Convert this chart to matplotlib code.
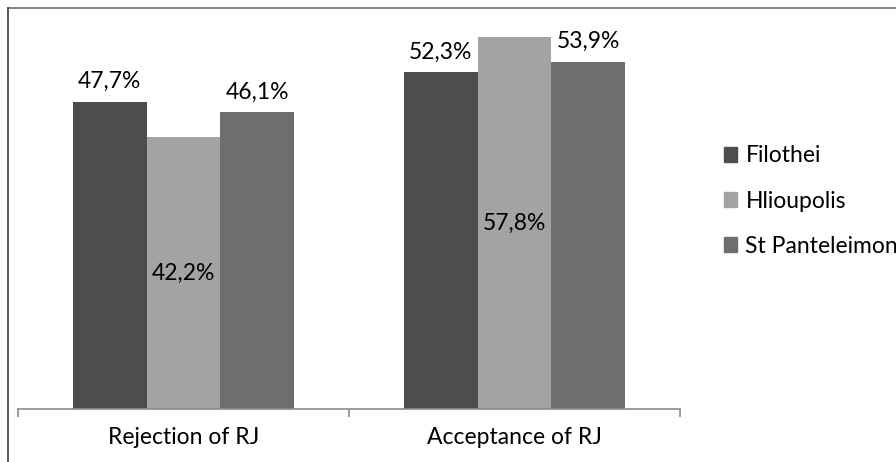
import numpy as np
import matplotlib.pyplot as plt
from matplotlib.lines import Line2D
from matplotlib.patches import Patch

plt.rcParams['font.family'] = ['Lato', 'DejaVu Sans']

categories = ['Rejection of RJ', 'Acceptance of RJ']
areas = ['Filothei', 'Hlioupolis', 'St Panteleimon']
values = {
    'Filothei': [47.7, 52.3],
    'Hlioupolis': [42.2, 57.8],
    'St Panteleimon': [46.1, 53.9],
}
colors = ['#4d4d4d', '#a3a3a3', '#6e6e6e']
# Hlioupolis labels sit inside the bar, the others above it
inside = [False, True, False]

fs = 16.5

fig = plt.figure(figsize=(8.96, 4.62), dpi=100)
ax = fig.add_axes([18 / 896, 1 - 409 / 462, (680 - 18) / 896, (409 - 22.6) / 462])

x = np.arange(len(categories))
w = 0.2225
for i, area in enumerate(areas):
    pos = x + (i - 1) * w
    bars = ax.bar(pos, values[area], w, color=colors[i], label=area)
    for b, v in zip(bars, values[area]):
        txt = f'{v:.1f}%'.replace('.', ',')
        cx = b.get_x() + b.get_width() / 2
        if inside[i]:
            ax.text(cx, v / 2, txt, ha='center', va='center', fontsize=fs, color='black')
        else:
            ax.annotate(txt, (cx, v), xytext=(0, 7), textcoords='offset points',
                        ha='center', va='bottom', fontsize=fs, color='black')

ax.set_xlim(-0.5, 1.5)
ax.set_ylim(0, 60)
ax.set_xticks([-0.5, 0.5, 1.5], minor=False)
ax.set_xticklabels([])
ax.set_xticks(x, minor=True)
ax.set_xticklabels(categories, minor=True, fontsize=fs)
ax.tick_params(axis='x', which='major', length=6, color='#8c8c8c', width=1.2)
ax.tick_params(axis='x', which='minor', length=0, pad=13)
ax.set_yticks([])
for s in ['top', 'right', 'left']:
    ax.spines[s].set_visible(False)
ax.spines['bottom'].set_color('#8c8c8c')
ax.spines['bottom'].set_linewidth(1.2)

handles = [Patch(color=c) for c in colors]
fig.legend(handles, areas, loc='center left', bbox_to_anchor=(703 / 896, 1 - 201 / 462),
           frameon=False, fontsize=fs, handlelength=0.6, handleheight=0.6,
           handletextpad=0.35, labelspacing=1.05)

# outer chart border
fig.add_artist(Line2D([8 / 896, 1], [1 - 8 / 462, 1 - 8 / 462], color='#7a7a7a', lw=1.3))
fig.add_artist(Line2D([8 / 896, 8 / 896], [0, 1 - 8 / 462], color='#4a4a4a', lw=1.3))

fig.savefig('out.png', dpi=100)
